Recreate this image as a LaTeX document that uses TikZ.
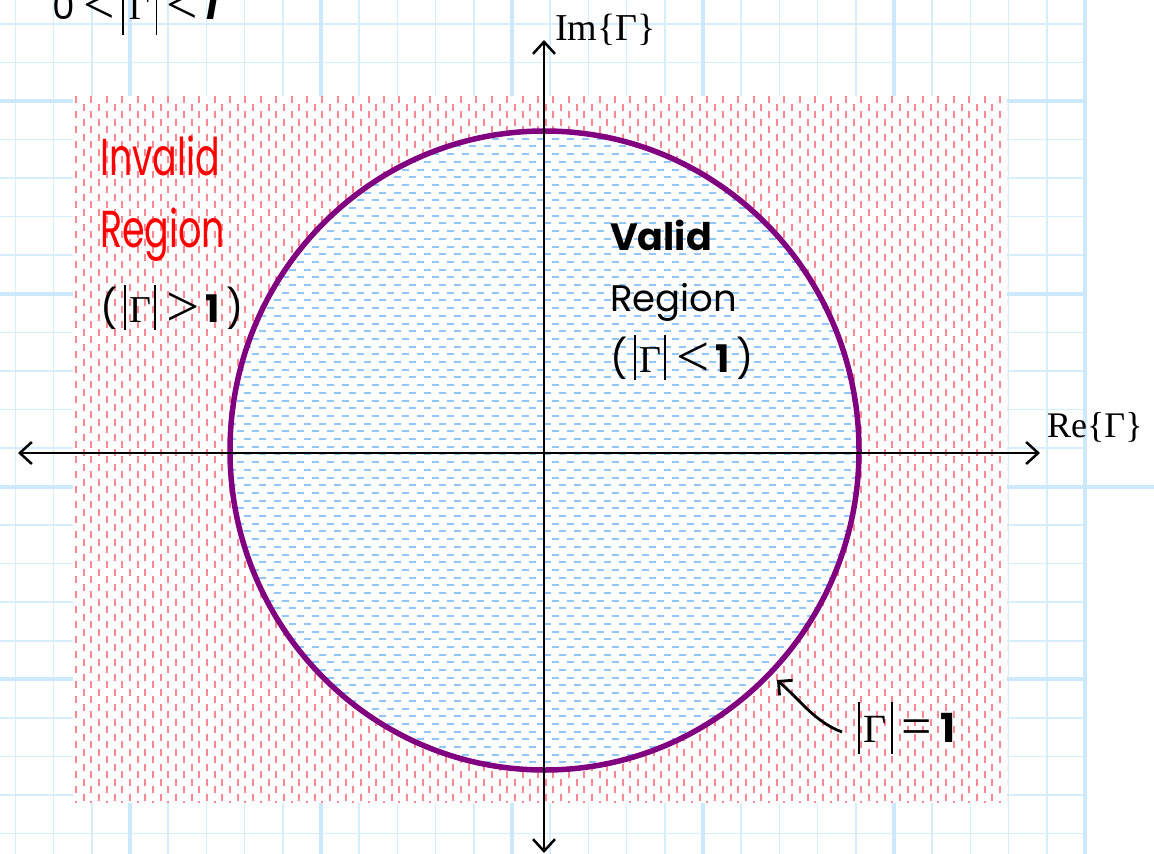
\documentclass[tikz,border=0pt]{standalone}
\usepackage{fontspec}
\usepackage{graphicx}
\setmainfont{Liberation Serif}
\newfontfamily\comic{Poppins}
\usetikzlibrary{arrows.meta}
\definecolor{gridc}{RGB}{214,237,252}
\definecolor{gridm}{RGB}{204,232,252}
\definecolor{pinkd}{RGB}{255,135,145}
\definecolor{blued}{RGB}{145,198,248}
\definecolor{purp}{RGB}{128,0,128}
\newcommand{\vb}[2]{\rule[-#1]{1.6pt}{#2}}
\newcommand{\bigrel}[1]{\raisebox{-4pt}{\scalebox{1.55}{#1}}}
\tikzset{
  gridminor/.style={gridc,line width=1.6pt},
  gridmajor/.style={gridm,line width=4pt},
  pinkdash/.style={pinkd,line width=2pt,dash pattern=on 7pt off 8pt},
  bluedash/.style={blued,line width=2pt,dash pattern=on 7pt off 8pt},
  axis/.style={black,line width=2.5pt,{Straight Barb[length=12pt,width=22pt,line width=2.5pt]}-{Straight Barb[length=12pt,width=22pt,line width=2.5pt]}},
  ptrarrow/.style={black,line width=2.8pt,-{Straight Barb[length=10pt,width=20pt,line width=2.8pt]}},
  lbl/.style={inner sep=0pt,anchor=base west},
}
\begin{document}
\begin{tikzpicture}[x=1pt,y=-1pt]
\useasboundingbox (0,0) rectangle (1154,854);
\fill[white] (0,0) rectangle (1154,854);
% grid
\foreach \k in {-3,...,25} {
  \pgfmathsetmacro\xx{130+38.2*\k}
  \draw[gridminor] (\xx,0) -- (\xx,854);
}
\foreach \k in {-2,...,19} {
  \pgfmathsetmacro\yy{101+38.55*\k}
  \draw[gridminor] (0,\yy) -- (1085,\yy);
}
\foreach \k in {0,5,10,15,20,25} {
  \pgfmathsetmacro\xx{130+38.2*\k}
  \draw[gridmajor] (\xx,0) -- (\xx,854);
}
\foreach \k in {0,5,15} {
  \pgfmathsetmacro\yy{101+38.55*\k}
  \draw[gridmajor] (0,\yy) -- (1085,\yy);
}
\draw[gridmajor] (0,486.5) -- (1154,486.5);
% invalid region
\fill[white] (73,96) rectangle (1007,803);
\begin{scope}
  \clip (73,96) rectangle (1007,803);
  \foreach \k in {0,...,121} {
    \pgfmathsetmacro\xx{76+7.7*\k}
    \pgfmathsetmacro\ph{mod(\k,2)*7.5}
    \draw[pinkdash,dash phase=\ph pt] (\xx,96) -- (\xx,803);
  }
\end{scope}
% valid region
\coordinate (O) at (544.5,450.5);
\fill[white] (O) ellipse [x radius=314.5pt, y radius=319.5pt];
\begin{scope}
  \clip (O) ellipse [x radius=314.5pt, y radius=319.5pt];
  \foreach \k in {0,...,84} {
    \pgfmathsetmacro\yy{131+7.7*\k}
    \pgfmathsetmacro\ph{mod(\k,2)*7.5}
    \draw[bluedash,dash phase=\ph pt] (229,\yy) -- (861,\yy);
  }
\end{scope}
\draw[purp,line width=5.5pt] (O) ellipse [x radius=314.5pt, y radius=319.5pt];
% axes
\coordinate (xl) at (18,453);
\coordinate (xr) at (1040,453);
\coordinate (yt) at (544,40);
\coordinate (yb) at (544,853);
\draw[axis] (xl) -- (xr);
\draw[axis] (yt) -- (yb);
% labels
\node[lbl] (im) at (555,40) {\fontsize{38}{40}\selectfont Im\{Γ\}};
\node[lbl] (re) at (1047,437) {\fontsize{36}{40}\selectfont Re\{Γ\}};
\node[lbl] (top) at (52,19) {\fontsize{36}{40}\selectfont{\comic 0}\hspace{9pt}\bigrel{<}\hspace{7pt}\vb{16pt}{48pt}\hspace{5pt}Γ\hspace{6pt}\vb{16pt}{48pt}\hspace{9pt}\bigrel{<}\hspace{7pt}{\comic\bfseries\itshape 1}};
\node[lbl,text=red] (inv1) at (100,175) {\scalebox{0.7}[1]{\fontsize{52}{56}\selectfont\comic Invalid}};
\node[lbl,text=red] (inv2) at (100,247) {\scalebox{0.7}[1]{\fontsize{52}{56}\selectfont\comic Region}};
\node[lbl] (inv3) at (100,322) {\fontsize{38}{40}\selectfont{\comic (}\hspace{7pt}\vb{8pt}{45pt}\hspace{3pt}Γ\hspace{3pt}\vb{8pt}{45pt}\hspace{11pt}\bigrel{>}\hspace{6pt}{\comic\bfseries 1}\hspace{6pt}{\comic )}};
\node[lbl] (val1) at (610,250) {\fontsize{38}{42}\selectfont\comic\bfseries Valid};
\node[lbl] (val2) at (610,311) {\fontsize{37}{40}\selectfont\comic Region};
\node[lbl] (val3) at (610,372) {\fontsize{38}{40}\selectfont{\comic (}\hspace{7pt}\vb{8pt}{45pt}\hspace{3pt}Γ\hspace{3pt}\vb{8pt}{45pt}\hspace{11pt}\bigrel{<}\hspace{6pt}{\comic\bfseries 1}\hspace{6pt}{\comic )}};
\node[lbl] (g1) at (858,742) {\fontsize{40}{44}\selectfont\vb{12pt}{52pt}\hspace{4pt}Γ\hspace{4pt}\vb{12pt}{52pt}\hspace{9pt}\raisebox{-2pt}{\scalebox{1.35}{=}}\hspace{9pt}{\comic\bfseries 1}};
\coordinate (ptr) at (777,680);
\coordinate (c1) at (842,732);
\draw[ptrarrow] (c1) .. controls (815,722) and (800,700) .. (ptr);
\end{tikzpicture}
\end{document}
